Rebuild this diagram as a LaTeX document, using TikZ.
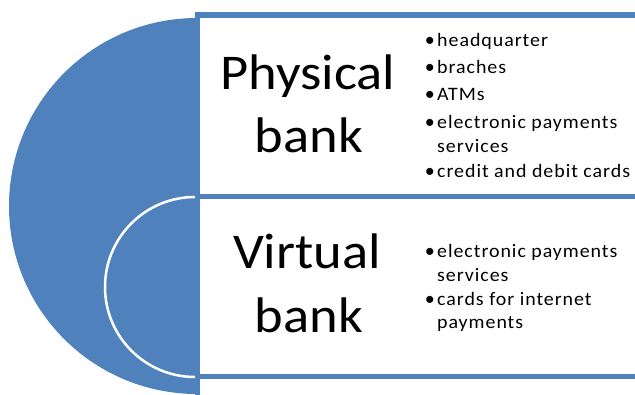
\documentclass[tikz,border=0pt]{standalone}
\usepackage{fontspec}
\setmainfont{Carlito}
\newfontfamily\bigfont[FakeStretch=1.09]{Carlito}
\newfontfamily\smallfont[FakeStretch=1.05,LetterSpace=5]{Carlito}
\definecolor{obl}{HTML}{4F81BD}
\begin{document}
\begin{tikzpicture}[x=1pt,y=-1pt,
  frame/.style={draw=obl,line width=5.5pt,fill=white},
  big/.style={font=\bigfont\fontsize{50}{61}\selectfont,anchor=base,inner sep=0pt},
  item/.style={font=\smallfont\fontsize{19}{23}\selectfont,anchor=base west,inner sep=0pt},
  dot/.style={font=\fontsize{20}{22}\selectfont,anchor=base east,inner sep=0pt}]
\useasboundingbox (0,0) rectangle (635,394);
% half disc
\fill[obl] (197,18) arc[start angle=270,end angle=90,radius=188] -- cycle;
% frames
\draw[frame] (197.5,15) rectangle (660,196.5);
\draw[frame] (197.5,196.5) rectangle (660,376.5);
\draw[frame] (197.5,376.5) rectangle (660,420);
% inner white arc
\draw[white,line width=2.5pt] (195,197) arc[start angle=270,end angle=90,radius=90];
% titles
\node[big] (p1) at (308,89) {Physical};
\node[big] (p2) at (309,152) {bank};
\node[big] (v1) at (307,268) {Virtual};
\node[big] (v2) at (309,332) {bank};
% bullets physical
\node[item] (a1) at (437,46) {headquarter};
\node[item] (a2) at (437,73) {braches};
\node[item] (a3) at (437,100) {ATMs};
\node[item] (a4) at (437,128) {electronic payments};
\node[item] (a5) at (437,152) {services};
\node[item] (a6) at (437,177) {credit and debit cards};
\foreach \y in {46,73,100,128,177} \node[dot] at (435,\y) {•};
% bullets virtual
\node[item] (b1) at (437,257) {electronic payments};
\node[item] (b2) at (437,281) {services};
\node[item] (b3) at (437,305) {cards for internet};
\node[item] (b4) at (437,328) {payments};
\foreach \y in {257,305} \node[dot] at (435,\y) {•};
\end{tikzpicture}
\end{document}
